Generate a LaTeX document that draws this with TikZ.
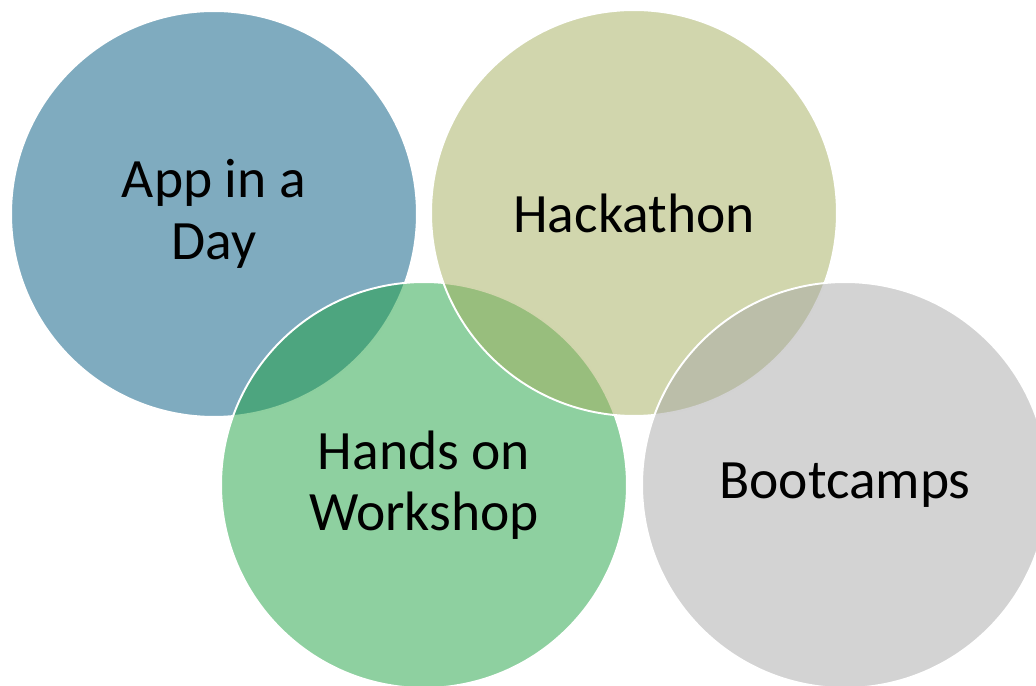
\documentclass[tikz,border=0pt]{standalone}
\usepackage{fontspec}
\setmainfont{Carlito}
\usepackage{tikz}
\usetikzlibrary{positioning}
\definecolor{dayblue}{RGB}{0,87,127}
\definecolor{hackolive}{RGB}{163,173,91}
\definecolor{shopgreen}{RGB}{29,161,65}
\definecolor{campgray}{RGB}{167,167,167}
\tikzset{venn/.style={circle, minimum size=8.12cm, inner sep=0pt, draw=white,
    line width=1.1pt, fill opacity=0.5, text opacity=1, align=center,
    font=\fontsize{31.6}{35}\selectfont}}

\begin{document}
\begin{tikzpicture}[x=0.02cm, y=0.02cm]
      \clip (0,0) rectangle (1036,686);

      \node [venn, fill=dayblue]   (app)  at (214,472) {App in a\\Day};
      \node [venn, fill=shopgreen] (shop) at (424,201) {Hands on\\Workshop};
      \node [venn, fill=hackolive] (hack) at (634,473) {Hackathon};
      \node [venn, fill=campgray]  (camp) at (845,201) {Bootcamps};
    \end{tikzpicture}
\end{document}
